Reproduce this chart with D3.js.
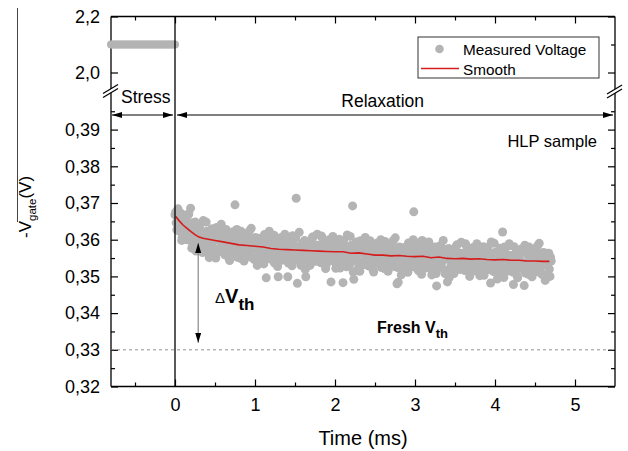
<!DOCTYPE html>
<html>
<head>
<meta charset="utf-8">
<style>
  body { margin: 0; background: #fff; }
  svg { display: block; font-family: "Liberation Sans", Arial, sans-serif; }
</style>
</head>
<body>
<svg id="chart" width="628" height="451"></svg>

<script src="https://d3js.org/d3.v7.min.js"></script>
<script>
  // ---- data ----
  const stressVoltage = 2.1;
  const stressTime = [-0.8, -0.78, -0.76, -0.74, -0.72, -0.7, -0.68, -0.66, -0.64, -0.62,
    -0.6, -0.58, -0.56, -0.54, -0.52, -0.5, -0.48, -0.46, -0.44, -0.42,
    -0.4, -0.38, -0.36, -0.34, -0.32, -0.3, -0.28, -0.26, -0.24, -0.22,
    -0.2, -0.18, -0.16, -0.14, -0.12, -0.1, -0.08, -0.06, -0.04, -0.02, 0];

  // relaxation samples, first half of the record
  const measuredTime = [
    0, 0.015, 0.03, 0.045, 0.06, 0.075, 0.09, 0.105, 0.12, 0.135,
    0.15, 0.165, 0.18, 0.195, 0.21, 0.225, 0.24, 0.255, 0.27, 0.285,
    0.3, 0.315, 0.33, 0.345, 0.36, 0.375, 0.39, 0.405, 0.42, 0.435,
    0.45, 0.465, 0.48, 0.495, 0.51, 0.525, 0.54, 0.555, 0.57, 0.585,
    0.6, 0.615, 0.63, 0.645, 0.66, 0.675, 0.69, 0.705, 0.72, 0.735,
    0.75, 0.765, 0.78, 0.795, 0.81, 0.825, 0.84, 0.855, 0.87, 0.885,
    0.9, 0.915, 0.93, 0.945, 0.96, 0.975, 0.99, 1.005, 1.02, 1.035,
    1.05, 1.065, 1.08, 1.095, 1.11, 1.125, 1.14, 1.155, 1.17, 1.185,
    1.2, 1.215, 1.23, 1.245, 1.26, 1.275, 1.29, 1.305, 1.32, 1.335,
    1.35, 1.365, 1.38, 1.395, 1.41, 1.425, 1.44, 1.455, 1.47, 1.485,
    1.5, 1.515, 1.53, 1.545, 1.56, 1.575, 1.59, 1.605, 1.62, 1.635,
    1.65, 1.665, 1.68, 1.695, 1.71, 1.725, 1.74, 1.755, 1.77, 1.785,
    1.8, 1.815, 1.83, 1.845, 1.86, 1.875, 1.89, 1.905, 1.92, 1.935,
    1.95, 1.965, 1.98, 1.995, 2.01, 2.025, 2.04, 2.055, 2.07, 2.085,
    2.1, 2.115, 2.13, 2.145, 2.16, 2.175, 2.19, 2.205, 2.22, 2.235,
    2.25, 2.265, 2.28, 2.295, 2.31, 2.325, 2.34, 2.355, 2.37, 2.385,
    2.4, 2.415, 2.43, 2.445, 2.46, 2.475, 2.49, 2.505, 2.52, 2.535,
    2.55, 2.565, 2.58, 2.595, 2.61, 2.625, 2.64, 2.655, 2.67, 2.685,
    2.7, 2.715, 2.73, 2.745, 2.76, 2.775, 2.79, 2.805, 2.82, 2.835,
    2.85, 2.865, 2.88, 2.895, 2.91, 2.925, 2.94, 2.955, 2.97, 2.985,
    3, 3.015, 3.03, 3.045, 3.06, 3.075, 3.09, 3.105, 3.12, 3.135,
    3.15, 3.165, 3.18, 3.195, 3.21, 3.225, 3.24, 3.255, 3.27, 3.285,
    3.3, 3.315, 3.33, 3.345, 3.36, 3.375, 3.39, 3.405, 3.42, 3.435,
    3.45, 3.465, 3.48, 3.495, 3.51, 3.525, 3.54, 3.555, 3.57, 3.585,
    3.6, 3.615, 3.63, 3.645, 3.66, 3.675, 3.69, 3.705, 3.72, 3.735,
    3.75, 3.765, 3.78, 3.795, 3.81, 3.825, 3.84, 3.855, 3.87, 3.885,
    3.9, 3.915, 3.93, 3.945, 3.96, 3.975, 3.99, 4.005, 4.02, 4.035,
    4.05, 4.065, 4.08, 4.095, 4.11, 4.125, 4.14, 4.155, 4.17, 4.185,
    4.2, 4.215, 4.23, 4.245, 4.26, 4.275, 4.29, 4.305, 4.32, 4.335,
    4.35, 4.365, 4.38, 4.395, 4.41, 4.425, 4.44, 4.455, 4.47, 4.485,
    4.5, 4.515, 4.53, 4.545, 4.56, 4.575, 4.59, 4.605, 4.62, 4.635,
    4.65, 4.665, 4.68, 4.695];

  const measuredVoltage = [
    0.3668, 0.3646, 0.3679, 0.3624, 0.3667, 0.3645, 0.3607, 0.3664, 0.3627, 0.3643,
    0.3600, 0.3648, 0.3621, 0.3686, 0.3577, 0.3646, 0.3598, 0.3648, 0.3602, 0.3586,
    0.3629, 0.3592, 0.3606, 0.3565, 0.3619, 0.3579, 0.3648, 0.3596, 0.3613, 0.3573,
    0.3593, 0.3630, 0.3576, 0.3604, 0.3550, 0.3611, 0.3599, 0.3571, 0.3636, 0.3584,
    0.3602, 0.3565, 0.3621, 0.3582, 0.3594, 0.3549, 0.3609, 0.3575, 0.3617, 0.3587,
    0.3695, 0.3593, 0.3552, 0.3607, 0.3579, 0.3623, 0.3573, 0.3586, 0.3558, 0.3600,
    0.3587, 0.3568, 0.3624, 0.3553, 0.3599, 0.3580, 0.3546, 0.3606, 0.3572, 0.3591,
    0.3547, 0.3598, 0.3573, 0.3591, 0.3534, 0.3606, 0.3496, 0.3613, 0.3569, 0.3556,
    0.3600, 0.3563, 0.3577, 0.3536, 0.3590, 0.3550, 0.3499, 0.3567, 0.3584, 0.3544,
    0.3568, 0.3605, 0.3551, 0.3579, 0.3499, 0.3586, 0.3574, 0.3546, 0.3611, 0.3559,
    0.3583, 0.3713, 0.3481, 0.3563, 0.3575, 0.3530, 0.3590, 0.3556, 0.3598, 0.3499,
    0.3551, 0.3578, 0.3537, 0.3592, 0.3564, 0.3608, 0.3558, 0.3571, 0.3543, 0.3585,
    0.3573, 0.3554, 0.3610, 0.3539, 0.3585, 0.3566, 0.3532, 0.3592, 0.3558, 0.3577,
    0.3485, 0.3586, 0.3561, 0.3579, 0.3522, 0.3594, 0.3548, 0.3601, 0.3557, 0.3544,
    0.3483, 0.3553, 0.3567, 0.3526, 0.3580, 0.3540, 0.3609, 0.3557, 0.3692, 0.3492,
    0.3557, 0.3594, 0.3540, 0.3568, 0.3514, 0.3575, 0.3563, 0.3535, 0.3600, 0.3548,
    0.3571, 0.3534, 0.3590, 0.3551, 0.3563, 0.3518, 0.3578, 0.3544, 0.3586, 0.3556,
    0.3538, 0.3565, 0.3524, 0.3579, 0.3551, 0.3595, 0.3545, 0.3558, 0.3530, 0.3572,
    0.3561, 0.3542, 0.3598, 0.3527, 0.3573, 0.3480, 0.3484, 0.3580, 0.3546, 0.3565,
    0.3524, 0.3575, 0.3550, 0.3568, 0.3511, 0.3583, 0.3537, 0.3590, 0.3546, 0.3676,
    0.3579, 0.3542, 0.3556, 0.3515, 0.3569, 0.3529, 0.3598, 0.3546, 0.3563, 0.3523,
    0.3547, 0.3584, 0.3530, 0.3558, 0.3504, 0.3565, 0.3553, 0.3525, 0.3474, 0.3538,
    0.3561, 0.3524, 0.3580, 0.3541, 0.3553, 0.3508, 0.3568, 0.3485, 0.3576, 0.3546,
    0.3529, 0.3556, 0.3515, 0.3570, 0.3542, 0.3586, 0.3536, 0.3549, 0.3521, 0.3563,
    0.3552, 0.3533, 0.3589, 0.3518, 0.3564, 0.3545, 0.3511, 0.3571, 0.3537, 0.3556,
    0.3515, 0.3566, 0.3541, 0.3559, 0.3502, 0.3574, 0.3528, 0.3581, 0.3537, 0.3524,
    0.3571, 0.3534, 0.3548, 0.3482, 0.3561, 0.3521, 0.3590, 0.3538, 0.3555, 0.3515,
    0.3540, 0.3577, 0.3523, 0.3621, 0.3497, 0.3558, 0.3546, 0.3518, 0.3583, 0.3531,
    0.3555, 0.3518, 0.3478, 0.3535, 0.3547, 0.3502, 0.3562, 0.3528, 0.3570, 0.3540,
    0.3523, 0.3475, 0.3509, 0.3564, 0.3536, 0.3580, 0.3530, 0.3543, 0.3515, 0.3557,
    0.3546, 0.3527, 0.3583, 0.3512, 0.3558, 0.3539, 0.3505, 0.3565, 0.3531, 0.3550,
    0.3502, 0.3558, 0.3520, 0.3552];

  // relaxation samples, interleaved second half of the record
  const measuredTimeB = [
    0.008, 0.023, 0.038, 0.053, 0.068, 0.083, 0.098, 0.113, 0.128, 0.143,
    0.158, 0.173, 0.188, 0.203, 0.218, 0.233, 0.248, 0.263, 0.278, 0.293,
    0.308, 0.323, 0.338, 0.353, 0.368, 0.383, 0.398, 0.413, 0.428, 0.443,
    0.458, 0.473, 0.488, 0.503, 0.518, 0.533, 0.548, 0.563, 0.578, 0.593,
    0.608, 0.623, 0.638, 0.653, 0.668, 0.683, 0.698, 0.713, 0.728, 0.743,
    0.758, 0.773, 0.788, 0.803, 0.818, 0.833, 0.848, 0.863, 0.878, 0.893,
    0.908, 0.923, 0.938, 0.953, 0.968, 0.983, 0.998, 1.013, 1.028, 1.043,
    1.058, 1.073, 1.088, 1.103, 1.118, 1.133, 1.148, 1.163, 1.178, 1.193,
    1.208, 1.223, 1.238, 1.253, 1.268, 1.283, 1.298, 1.313, 1.328, 1.343,
    1.358, 1.373, 1.388, 1.403, 1.418, 1.433, 1.448, 1.463, 1.478, 1.493,
    1.508, 1.523, 1.538, 1.553, 1.568, 1.583, 1.598, 1.613, 1.628, 1.643,
    1.658, 1.673, 1.688, 1.703, 1.718, 1.733, 1.748, 1.763, 1.778, 1.793,
    1.808, 1.823, 1.838, 1.853, 1.868, 1.883, 1.898, 1.913, 1.928, 1.943,
    1.958, 1.973, 1.988, 2.003, 2.018, 2.033, 2.048, 2.063, 2.078, 2.093,
    2.108, 2.123, 2.138, 2.153, 2.168, 2.183, 2.198, 2.213, 2.228, 2.243,
    2.258, 2.273, 2.288, 2.303, 2.318, 2.333, 2.348, 2.363, 2.378, 2.393,
    2.408, 2.423, 2.438, 2.453, 2.468, 2.483, 2.498, 2.513, 2.528, 2.543,
    2.558, 2.573, 2.588, 2.603, 2.618, 2.633, 2.648, 2.663, 2.678, 2.693,
    2.708, 2.723, 2.738, 2.753, 2.768, 2.783, 2.798, 2.813, 2.828, 2.843,
    2.858, 2.873, 2.888, 2.903, 2.918, 2.933, 2.948, 2.963, 2.978, 2.993,
    3.008, 3.023, 3.038, 3.053, 3.068, 3.083, 3.098, 3.113, 3.128, 3.143,
    3.158, 3.173, 3.188, 3.203, 3.218, 3.233, 3.248, 3.263, 3.278, 3.293,
    3.308, 3.323, 3.338, 3.353, 3.368, 3.383, 3.398, 3.413, 3.428, 3.443,
    3.458, 3.473, 3.488, 3.503, 3.518, 3.533, 3.548, 3.563, 3.578, 3.593,
    3.608, 3.623, 3.638, 3.653, 3.668, 3.683, 3.698, 3.713, 3.728, 3.743,
    3.758, 3.773, 3.788, 3.803, 3.818, 3.833, 3.848, 3.863, 3.878, 3.893,
    3.908, 3.923, 3.938, 3.953, 3.968, 3.983, 3.998, 4.013, 4.028, 4.043,
    4.058, 4.073, 4.088, 4.103, 4.118, 4.133, 4.148, 4.163, 4.178, 4.193,
    4.208, 4.223, 4.238, 4.253, 4.268, 4.283, 4.298, 4.313, 4.328, 4.343,
    4.358, 4.373, 4.388, 4.403, 4.418, 4.433, 4.448, 4.463, 4.478, 4.493,
    4.508, 4.523, 4.538, 4.553, 4.568, 4.583, 4.598, 4.613, 4.628, 4.643,
    4.658, 4.673, 4.688, 4.703];

  const measuredVoltageB = [
    0.3675, 0.3627, 0.3684, 0.3647, 0.3673, 0.3598, 0.3651, 0.3619, 0.3667, 0.3616,
    0.3607, 0.3670, 0.3614, 0.3640, 0.3584, 0.3621, 0.3644, 0.3569, 0.3623, 0.3612,
    0.3637, 0.3589, 0.3576, 0.3652, 0.3601, 0.3571, 0.3623, 0.3610, 0.3551, 0.3625,
    0.3586, 0.3620, 0.3557, 0.3599, 0.3633, 0.3575, 0.3613, 0.3568, 0.3642, 0.3579,
    0.3604, 0.3559, 0.3628, 0.3585, 0.3615, 0.3543, 0.3599, 0.3570, 0.3622, 0.3574,
    0.3562, 0.3628, 0.3574, 0.3603, 0.3549, 0.3589, 0.3614, 0.3542, 0.3598, 0.3590,
    0.3616, 0.3568, 0.3555, 0.3631, 0.3580, 0.3550, 0.3602, 0.3589, 0.3530, 0.3604,
    0.3567, 0.3601, 0.3538, 0.3580, 0.3614, 0.3556, 0.3594, 0.3549, 0.3623, 0.3560,
    0.3588, 0.3543, 0.3612, 0.3569, 0.3599, 0.3527, 0.3583, 0.3554, 0.3606, 0.3558,
    0.3549, 0.3615, 0.3561, 0.3590, 0.3536, 0.3576, 0.3601, 0.3529, 0.3585, 0.3577,
    0.3605, 0.3557, 0.3544, 0.3620, 0.3569, 0.3539, 0.3591, 0.3578, 0.3519, 0.3593,
    0.3559, 0.3593, 0.3530, 0.3572, 0.3606, 0.3548, 0.3586, 0.3541, 0.3615, 0.3552,
    0.3582, 0.3537, 0.3606, 0.3563, 0.3593, 0.3521, 0.3577, 0.3548, 0.3600, 0.3552,
    0.3543, 0.3609, 0.3555, 0.3584, 0.3530, 0.3570, 0.3595, 0.3523, 0.3579, 0.3571,
    0.3598, 0.3550, 0.3537, 0.3613, 0.3562, 0.3532, 0.3584, 0.3571, 0.3512, 0.3586,
    0.3550, 0.3584, 0.3521, 0.3563, 0.3597, 0.3539, 0.3577, 0.3532, 0.3606, 0.3543,
    0.3573, 0.3528, 0.3597, 0.3554, 0.3584, 0.3512, 0.3568, 0.3539, 0.3591, 0.3543,
    0.3534, 0.3600, 0.3546, 0.3575, 0.3521, 0.3561, 0.3586, 0.3514, 0.3570, 0.3562,
    0.3590, 0.3542, 0.3529, 0.3605, 0.3554, 0.3524, 0.3576, 0.3563, 0.3504, 0.3578,
    0.3544, 0.3578, 0.3515, 0.3557, 0.3591, 0.3533, 0.3571, 0.3526, 0.3600, 0.3537,
    0.3567, 0.3522, 0.3591, 0.3548, 0.3578, 0.3506, 0.3562, 0.3533, 0.3585, 0.3537,
    0.3528, 0.3594, 0.3540, 0.3569, 0.3515, 0.3555, 0.3580, 0.3508, 0.3564, 0.3556,
    0.3583, 0.3535, 0.3522, 0.3598, 0.3547, 0.3517, 0.3569, 0.3556, 0.3497, 0.3571,
    0.3537, 0.3571, 0.3508, 0.3550, 0.3584, 0.3526, 0.3564, 0.3519, 0.3593, 0.3530,
    0.3561, 0.3516, 0.3585, 0.3542, 0.3572, 0.3500, 0.3556, 0.3527, 0.3579, 0.3531,
    0.3523, 0.3589, 0.3535, 0.3564, 0.3510, 0.3550, 0.3575, 0.3503, 0.3559, 0.3551,
    0.3579, 0.3531, 0.3518, 0.3594, 0.3543, 0.3513, 0.3565, 0.3552, 0.3493, 0.3567,
    0.3533, 0.3567, 0.3504, 0.3546, 0.3580, 0.3522, 0.3560, 0.3515, 0.3589, 0.3526,
    0.3557, 0.3512, 0.3581, 0.3538, 0.3568, 0.3496, 0.3552, 0.3523, 0.3575, 0.3527,
    0.3519, 0.3585, 0.3531, 0.3560, 0.3506, 0.3546, 0.3571, 0.3499, 0.3555, 0.3547,
    0.3575, 0.3527, 0.3514, 0.3590, 0.3539, 0.3509, 0.3561, 0.3548, 0.3489, 0.3563,
    0.3529, 0.3563, 0.3500, 0.3542];

  const smoothTime = [0.01, 0.05, 0.1, 0.15, 0.2, 0.25, 0.3, 0.35, 0.4, 0.5, 0.6, 0.7, 0.8, 0.9,
    1.0, 1.1, 1.2, 1.3, 1.4, 1.5, 1.6, 1.7, 1.8, 1.9, 2.0, 2.1, 2.2, 2.3, 2.4, 2.5,
    2.6, 2.7, 2.8, 2.9, 3.0, 3.1, 3.2, 3.3, 3.4, 3.5, 3.6, 3.7, 3.8, 3.9, 4.0,
    4.1, 4.2, 4.3, 4.4, 4.5, 4.6, 4.68];
  const smoothVoltage = [0.3663, 0.3652, 0.3640, 0.3631, 0.3622, 0.3614, 0.3607, 0.3604, 0.3602,
    0.3598, 0.3594, 0.3590, 0.3586, 0.3584, 0.3582, 0.3580, 0.3576, 0.3574, 0.3573, 0.3572,
    0.3571, 0.3570, 0.3569, 0.3568, 0.3567, 0.3567, 0.3563, 0.3564, 0.3561, 0.3558,
    0.3558, 0.3556, 0.3557, 0.3555, 0.3554, 0.3555, 0.3551, 0.3553, 0.3549, 0.3548,
    0.3549, 0.3547, 0.3548, 0.3546, 0.3545, 0.3546, 0.3544, 0.3544, 0.3542, 0.3542,
    0.3541, 0.3541];

  const xTicks = [0, 1, 2, 3, 4, 5];
  const xMinorTicks = [-0.5, 0.5, 1.5, 2.5, 3.5, 4.5];
  const yLowTicks = [0.32, 0.33, 0.34, 0.35, 0.36, 0.37, 0.38, 0.39];
  const yLowMinorTicks = [0.325, 0.335, 0.345, 0.355, 0.365, 0.375, 0.385, 0.395];
  const yHighTicks = [2.0, 2.2];
  const yHighMinorTicks = [2.1];
  const freshVth = 0.33;
  const deltaArrow = { t: 0.29, from: 0.3591, to: 0.3319 };

  // ---- layout ----
  const pLeft = 111, pRight = 615, pTop = 16.5, pBottom = 386.5;
  const breakTop = 89.3, breakBottom = 92.9;

  const svg = d3.select("#chart");
  const font = '"Liberation Sans", Arial, sans-serif';
  const comma = d3.formatLocale({ decimal: ",", thousands: ".", grouping: [3], currency: ["", ""] });

  const x = d3.scaleLinear().domain([-0.8, 5.5]).range([pLeft, pRight]);
  const yHigh = d3.scaleLinear().domain([1.94, 2.2]).range([breakTop, pTop]);
  const yLow = d3.scaleLinear().domain([0.32, 0.40]).range([pBottom, breakBottom]);

  function styleAxis(g) {
    g.select(".domain").remove();
    g.selectAll("line").attr("stroke", "#000").attr("stroke-width", 1.2);
    g.selectAll("text").attr("fill", "#000");
    g.attr("font-family", font).attr("font-size", 18);
  }

  // bottom / top x axes
  svg.append("g").attr("transform", `translate(0,${pBottom})`)
    .call(d3.axisBottom(x).tickValues(xTicks).tickSizeInner(-7).tickSizeOuter(0).tickPadding(12).tickFormat(d3.format("d")))
    .call(styleAxis);
  svg.append("g").attr("transform", `translate(0,${pBottom})`)
    .call(d3.axisBottom(x).tickValues(xMinorTicks).tickSizeInner(-4).tickSizeOuter(0).tickFormat(""))
    .call(styleAxis);
  svg.append("g").attr("transform", `translate(0,${pTop})`)
    .call(d3.axisTop(x).tickValues(xTicks).tickSizeInner(-7).tickSizeOuter(0).tickFormat(""))
    .call(styleAxis);
  svg.append("g").attr("transform", `translate(0,${pTop})`)
    .call(d3.axisTop(x).tickValues(xMinorTicks).tickSizeInner(-4).tickSizeOuter(0).tickFormat(""))
    .call(styleAxis);

  // left / right y axes, both segments
  const yFmtLow = comma.format(".2f"), yFmtHigh = comma.format(".1f");
  [[yLow, yLowTicks, yLowMinorTicks, yFmtLow], [yHigh, yHighTicks, yHighMinorTicks, yFmtHigh]]
    .forEach(([scale, major, minor, fmt]) => {
      svg.append("g").attr("transform", `translate(${pLeft},0)`)
        .call(d3.axisLeft(scale).tickValues(major).tickSizeInner(-7).tickSizeOuter(0).tickPadding(11).tickFormat(fmt))
        .call(styleAxis);
      svg.append("g").attr("transform", `translate(${pLeft},0)`)
        .call(d3.axisLeft(scale).tickValues(minor).tickSizeInner(-4).tickSizeOuter(0).tickFormat(""))
        .call(styleAxis);
      svg.append("g").attr("transform", `translate(${pRight},0)`)
        .call(d3.axisRight(scale).tickValues(major).tickSizeInner(-7).tickSizeOuter(0).tickFormat(""))
        .call(styleAxis);
      svg.append("g").attr("transform", `translate(${pRight},0)`)
        .call(d3.axisRight(scale).tickValues(minor).tickSizeInner(-4).tickSizeOuter(0).tickFormat(""))
        .call(styleAxis);
    });

  // frame
  const frame = svg.append("g").attr("stroke", "#000").attr("stroke-width", 1.3).attr("fill", "none");
  frame.append("line").attr("x1", pLeft).attr("x2", pRight).attr("y1", pTop).attr("y2", pTop);
  frame.append("line").attr("x1", pLeft).attr("x2", pRight).attr("y1", pBottom).attr("y2", pBottom);
  [pLeft, pRight].forEach(xx => {
    frame.append("line").attr("x1", xx).attr("x2", xx).attr("y1", pTop).attr("y2", breakTop + 1);
    frame.append("line").attr("x1", xx).attr("x2", xx).attr("y1", breakBottom - 1).attr("y2", pBottom);
  });

  // fresh Vth dashed line
  svg.append("line")
    .attr("x1", pLeft).attr("x2", pRight)
    .attr("y1", yLow(freshVth)).attr("y2", yLow(freshVth))
    .attr("stroke", "#777").attr("stroke-width", 0.8).attr("stroke-dasharray", "3,3");

  // data
  const dotColor = "#b4b4b4";
  svg.append("g").selectAll("circle")
    .data(stressTime)
    .join("circle")
    .attr("cx", d => x(d)).attr("cy", yHigh(stressVoltage)).attr("r", 4)
    .attr("fill", dotColor);

  const samples = d3.zip(measuredTimeB, measuredVoltageB).concat(d3.zip(measuredTime, measuredVoltage));
  svg.append("g").selectAll("circle")
    .data(samples)
    .join("circle")
    .attr("cx", d => x(d[0])).attr("cy", d => yLow(d[1])).attr("r", 4.5)
    .attr("fill", dotColor);

  svg.append("path")
    .datum(d3.zip(smoothTime, smoothVoltage))
    .attr("fill", "none").attr("stroke", "#d41c1c").attr("stroke-width", 1.6)
    .attr("d", d3.line().x(d => x(d[0])).y(d => yLow(d[1])));

  // stress / relaxation boundary
  svg.append("line")
    .attr("x1", x(0)).attr("x2", x(0)).attr("y1", pTop).attr("y2", pBottom)
    .attr("stroke", "#000").attr("stroke-width", 1.3);

  // arrow heads
  const defs = svg.append("defs");
  defs.append("marker").attr("id", "head")
    .attr("viewBox", "0 0 10 6").attr("refX", 10).attr("refY", 3)
    .attr("markerWidth", 10).attr("markerHeight", 6).attr("markerUnits", "userSpaceOnUse")
    .attr("orient", "auto-start-reverse")
    .append("path").attr("d", "M0,0 L10,3 L0,6 Z").attr("fill", "#000");

  const arrowY = 115;
  svg.append("line").attr("x1", pLeft + 1).attr("x2", x(0) - 2).attr("y1", arrowY).attr("y2", arrowY)
    .attr("stroke", "#000").attr("stroke-width", 1)
    .attr("marker-start", "url(#head)").attr("marker-end", "url(#head)");
  svg.append("line").attr("x1", x(0) + 2).attr("x2", pRight - 2).attr("y1", arrowY).attr("y2", arrowY)
    .attr("stroke", "#000").attr("stroke-width", 1)
    .attr("marker-start", "url(#head)").attr("marker-end", "url(#head)");

  svg.append("line")
    .attr("x1", x(deltaArrow.t)).attr("x2", x(deltaArrow.t))
    .attr("y1", yLow(deltaArrow.from)).attr("y2", yLow(deltaArrow.to))
    .attr("stroke", "#888").attr("stroke-width", 1.2)
    .attr("marker-start", "url(#head)").attr("marker-end", "url(#head)");

  // break marks
  function breakMark(xc, yc) {
    const g = svg.append("g");
    g.append("polygon")
      .attr("points", `${xc - 8},${yc + 6} ${xc + 7},${yc - 3} ${xc + 7},${yc - 7} ${xc - 8},${yc + 2}`)
      .attr("fill", "#fff");
    g.append("line").attr("x1", xc - 8).attr("y1", yc + 6).attr("x2", xc + 7).attr("y2", yc - 3)
      .attr("stroke", "#000").attr("stroke-width", 1.2);
    g.append("line").attr("x1", xc - 8).attr("y1", yc + 2).attr("x2", xc + 7).attr("y2", yc - 7)
      .attr("stroke", "#000").attr("stroke-width", 1.2);
  }
  breakMark(pLeft, 91.5);
  breakMark(pRight, 92);

  // texts
  const txt = (s, xx, yy, size, anchor) => svg.append("text")
    .attr("x", xx).attr("y", yy).attr("font-size", size).attr("font-family", font)
    .attr("text-anchor", anchor || "start").attr("fill", "#000").text(s);

  txt("Stress", 121, 103, 17.5);
  txt("Relaxation", 424, 107, 17.5, "end");
  txt("HLP sample", 597, 147, 16.5, "end");
  txt("Time (ms)", (pLeft + pRight) / 2, 445, 20, "middle");

  const dv = svg.append("text").attr("x", 215).attr("y", 303).attr("font-family", font).attr("fill", "#000");
  dv.append("tspan").attr("font-size", 15).text("\u0394");
  dv.append("tspan").attr("font-size", 20).attr("font-weight", "bold").text("V");
  dv.append("tspan").attr("font-size", 17).attr("font-weight", "bold").attr("dy", 7).text("th");

  const fv = svg.append("text").attr("x", 377).attr("y", 333).attr("font-family", font)
    .attr("font-weight", "bold").attr("fill", "#000");
  fv.append("tspan").attr("font-size", 16).text("Fresh V");
  fv.append("tspan").attr("font-size", 13).attr("dy", 5).text("th");

  // y label
  const yl = svg.append("text")
    .attr("transform", "translate(30.5,238) rotate(-90)")
    .attr("font-family", font).attr("fill", "#000").attr("font-size", 17);
  yl.append("tspan").text("-V");
  yl.append("tspan").attr("font-size", 11.5).attr("dy", 5).text("gate");
  yl.append("tspan").attr("dy", -5).text("(V)");
  svg.append("line").attr("x1", 17.5).attr("x2", 17.5).attr("y1", 8).attr("y2", 222)
    .attr("stroke", "#444").attr("stroke-width", 1);

  // legend
  const lg = svg.append("g");
  lg.append("rect").attr("x", 418).attr("y", 37).attr("width", 181).attr("height", 41)
    .attr("fill", "#fff").attr("stroke", "#333").attr("stroke-width", 1);
  lg.append("circle").attr("cx", 439.5).attr("cy", 49).attr("r", 4.3).attr("fill", dotColor);
  lg.append("line").attr("x1", 421).attr("x2", 459).attr("y1", 68.5).attr("y2", 68.5)
    .attr("stroke", "#d41c1c").attr("stroke-width", 1.6);
  lg.append("text").attr("x", 463).attr("y", 54.5).attr("font-size", 15.3).attr("font-family", font).text("Measured Voltage");
  lg.append("text").attr("x", 463).attr("y", 74.5).attr("font-size", 15.3).attr("font-family", font).text("Smooth");
</script>
</body>
</html>
